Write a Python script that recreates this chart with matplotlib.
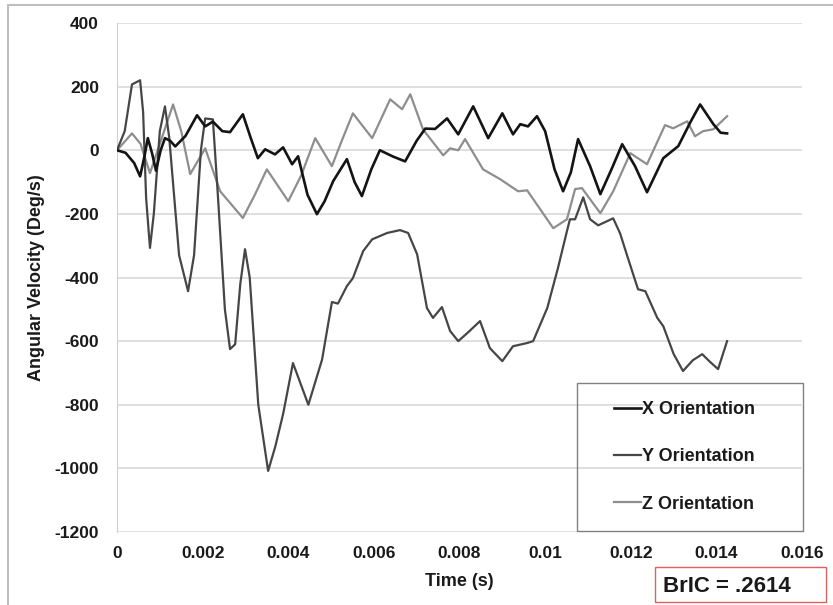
from matplotlib import pyplot as plt
from matplotlib.patches import Rectangle

# Winkelgeschwindigkeit je Achse, Zeit in s, Werte in Deg/s
x_zeit = [0, 0.00020, 0.00040, 0.00054, 0.00064, 0.00072, 0.00082, 0.00091, 0.00102, 0.00112,
          0.00124, 0.00136, 0.00160, 0.00187, 0.00206, 0.00224, 0.00246, 0.00264, 0.00294,
          0.00312, 0.00329, 0.00346, 0.00369, 0.00388, 0.00409, 0.00423, 0.00445, 0.00467,
          0.00485, 0.00505, 0.00537, 0.00555, 0.00572, 0.00594, 0.00614, 0.00645, 0.00673,
          0.00700, 0.00720, 0.00743, 0.00771, 0.00797, 0.00832, 0.00867, 0.00900, 0.00925,
          0.00942, 0.00960, 0.00981, 0.01000, 0.01022, 0.01042, 0.01060, 0.01077, 0.01105,
          0.01129, 0.01155, 0.01180, 0.01210, 0.01238, 0.01276, 0.01311, 0.01340, 0.01362,
          0.01393, 0.01410, 0.01425]
x_wert = [0, -8, -40, -82, -20, 38, -10, -64, 0, 38,
          30, 12, 45, 110, 75, 90, 60, 57, 113,
          40, -25, 3, -13, 9, -44, -19, -140, -201,
          -160, -97, -28, -100, -144, -60, 0, -20, -35,
          30, 68, 67, 100, 50, 138, 38, 116, 50,
          82, 75, 107, 60, -60, -129, -70, 35, -50,
          -138, -60, 19, -50, -132, -25, 13, 90, 144,
          82, 55, 53]

y_zeit = [0, 0.00018, 0.00035, 0.00054, 0.00061, 0.00068, 0.00077, 0.00086, 0.00100, 0.00112,
          0.00122, 0.00145, 0.00166, 0.00180, 0.00196, 0.00206, 0.00224, 0.00236, 0.00252,
          0.00264, 0.00276, 0.00288, 0.00299, 0.00310, 0.00330, 0.00353, 0.00370, 0.00388,
          0.00411, 0.00447, 0.00479, 0.00502, 0.00516, 0.00537, 0.00551, 0.00575, 0.00596,
          0.00631, 0.00661, 0.00680, 0.00701, 0.00724, 0.00738, 0.00759, 0.00778, 0.00797,
          0.00818, 0.00848, 0.00871, 0.00900, 0.00925, 0.00958, 0.00972, 0.01005, 0.01030,
          0.01051, 0.01058, 0.01070, 0.01089, 0.01105, 0.01124, 0.01159, 0.01175, 0.01192,
          0.01217, 0.01234, 0.01262, 0.01276, 0.01300, 0.01322, 0.01345, 0.01367, 0.01385,
          0.01404, 0.01425]
y_wert = [0, 60, 207, 220, 120, -150, -307, -200, 60, 138,
          40, -330, -443, -330, 0, 100, 97, -150, -500,
          -625, -610, -420, -311, -400, -800, -1008, -930, -829,
          -669, -800, -658, -477, -482, -427, -402, -317, -280,
          -260, -251, -260, -327, -496, -527, -493, -568, -600,
          -575, -537, -622, -663, -616, -606, -600, -496, -370,
          -254, -217, -217, -148, -217, -236, -214, -261, -333,
          -437, -443, -527, -553, -640, -694, -660, -641, -665,
          -688, -600]

z_zeit = [0, 0.00035, 0.00055, 0.00077, 0.00100, 0.00131, 0.00150, 0.00171, 0.00206, 0.00241,
          0.00294, 0.00322, 0.00350, 0.00375, 0.00400, 0.00430, 0.00463, 0.00502, 0.00525,
          0.00551, 0.00596, 0.00638, 0.00666, 0.00685, 0.00715, 0.00762, 0.00778, 0.00797,
          0.00813, 0.00855, 0.00895, 0.00937, 0.00958, 0.01019, 0.01051, 0.01070, 0.01086,
          0.01129, 0.01159, 0.01199, 0.01238, 0.01280, 0.01299, 0.01332, 0.01350, 0.01369,
          0.01393, 0.01425]
z_wert = [0, 53, 20, -72, 20, 144, 60, -75, 6, -129,
          -213, -140, -60, -110, -160, -80, 38, -50, 30,
          116, 38, 160, 129, 176, 65, -16, 6, 0,
          35, -60, -91, -129, -126, -245, -217, -122, -119,
          -198, -129, -9, -44, 79, 69, 91, 44, 60,
          66, 107]

x_ticks = [0, 0.002, 0.004, 0.006, 0.008, 0.010, 0.012, 0.014, 0.016]
x_tick_labels = ['0', '0.002', '0.004', '0.006', '0.008', '0.01', '0.012', '0.014', '0.016']
y_ticks = [400, 200, 0, -200, -400, -600, -800, -1000, -1200]

plt.rcParams['font.family'] = ['Liberation Sans', 'DejaVu Sans']
plt.rcParams['font.weight'] = 'bold'
plt.rcParams['axes.unicode_minus'] = False

fig = plt.figure(figsize=(8.33, 6.05), dpi=100)
ax = fig.add_axes([117/833, 1-532/605, 685/833, 509/605])

# Rahmen um das ganze Diagramm
fig.patches.append(Rectangle((8/833, -0.05), 1.0, 1-5/605+0.05, transform=fig.transFigure,
                             fill=False, edgecolor='#bfbfbf', linewidth=1.5))

ax.plot(x_zeit, x_wert, color='#141414', linewidth=1.9, label='X Orientation', zorder=4)
ax.plot(y_zeit, y_wert, color='#464646', linewidth=1.6, label='Y Orientation', zorder=3)
ax.plot(z_zeit, z_wert, color='#8e8e8e', linewidth=1.6, label='Z Orientation', zorder=2)

ax.set_xlim(0, 0.016)
ax.set_ylim(-1200, 400)
ax.set_xticks(x_ticks)
ax.set_xticklabels(x_tick_labels)
ax.set_yticks(y_ticks)
ax.grid(axis='y', color='#d9d9d9', linewidth=1.2)
ax.set_axisbelow(True)
for s in ['top', 'right', 'bottom']:
    ax.spines[s].set_visible(False)
ax.spines['left'].set_color('#d0d0d0')
ax.tick_params(length=0, labelsize=12.5, colors='#1a1a1a')
ax.tick_params(axis='y', pad=13)
ax.tick_params(axis='x', pad=10)

ax.set_xlabel('Time (s)', fontsize=13, fontweight='bold', color='#1a1a1a')
ax.xaxis.set_label_coords(0.5, -0.08)
ax.set_ylabel('Angular Velocity (Deg/s)', fontsize=13, fontweight='bold', color='#1a1a1a')
ax.yaxis.set_label_coords(-0.105, 0.5)

# Legende ohne eigenen Rahmen, Kasten separat
leg = ax.legend(loc='upper left', bbox_to_anchor=(605/833, 1-392/605), bbox_transform=fig.transFigure,
                frameon=False, fontsize=13, handlelength=1.5, handletextpad=0.05,
                labelspacing=1.68, borderpad=0)
for t in leg.get_texts():
    t.set_color('#1a1a1a')
fig.patches.append(Rectangle((577/833, 1-531/605), 226/833, 148/605, transform=fig.transFigure,
                             fill=False, edgecolor='#808080', linewidth=1.0, zorder=5))

# BrIC-Wert
fig.patches.append(Rectangle((655/833, 1-602/605), 171/833, 35/605, transform=fig.transFigure,
                             fill=False, edgecolor='#e06060', linewidth=1.0))
fig.text(727/833, 1-586/605, 'BrIC = .2614', fontsize=16, fontweight='bold', color='#1a1a1a',
         ha='center', va='center')

plt.savefig('out.png', dpi=100)
